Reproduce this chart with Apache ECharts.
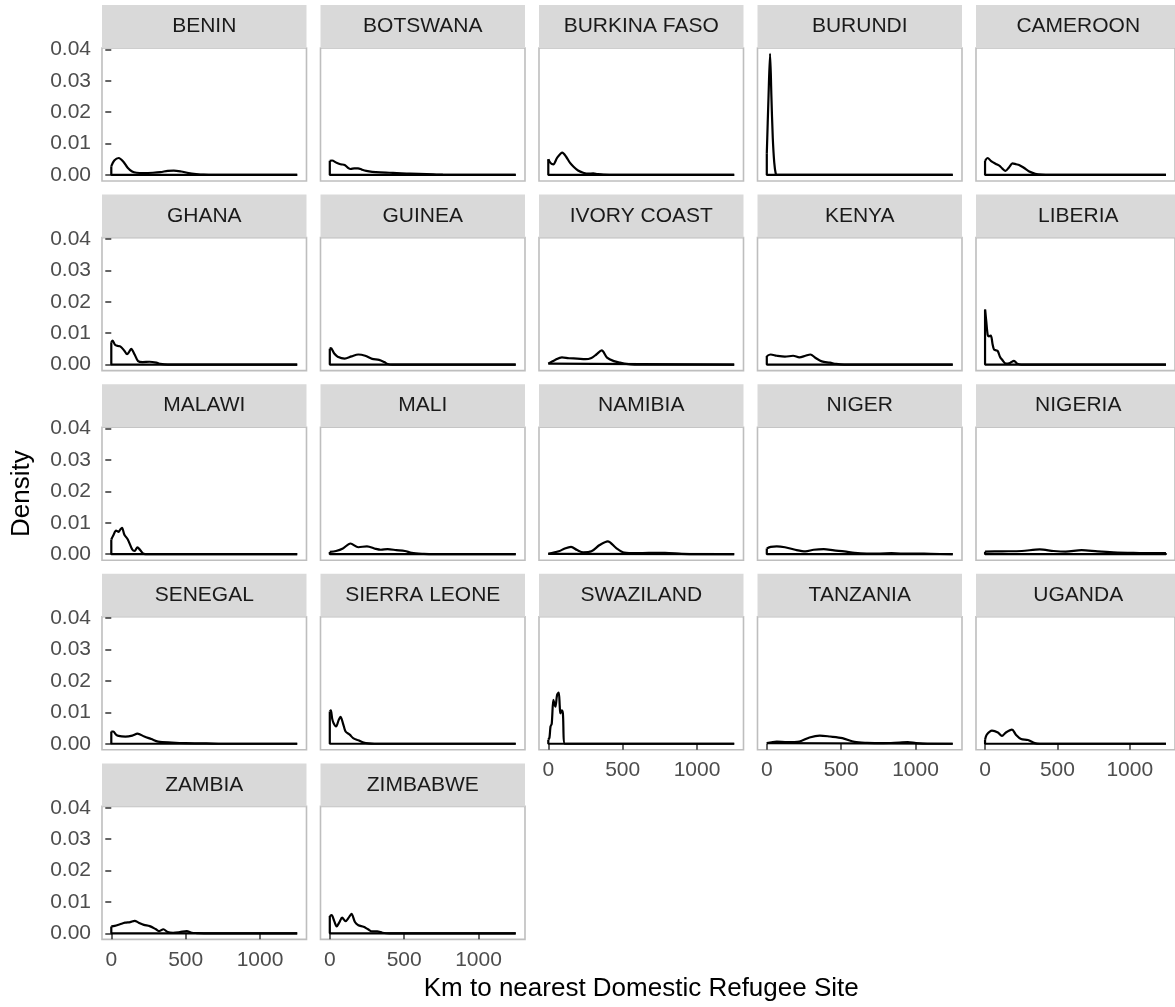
<!DOCTYPE html>
<html>
<head>
<meta charset="utf-8">
<script src="https://cdn.jsdelivr.net/npm/echarts@6/dist/echarts.min.js"></script>
<style>
  html, body { margin: 0; padding: 0; background: #ffffff; }
  #chart { width: 1175px; height: 1007px; }
</style>
</head>
<body>
<div id="chart"></div>
<script>
// Facet labels, in panel order (row by row)
const countries = [
  'BENIN', 'BOTSWANA', 'BURKINA FASO', 'BURUNDI', 'CAMEROON',
  'GHANA', 'GUINEA', 'IVORY COAST', 'KENYA', 'LIBERIA',
  'MALAWI', 'MALI', 'NAMIBIA', 'NIGER', 'NIGERIA',
  'SENEGAL', 'SIERRA LEONE', 'SWAZILAND', 'TANZANIA', 'UGANDA',
  'ZAMBIA', 'ZIMBABWE'
];

// Kernel density estimates: [km to nearest site, density]
const densBenin = [[0,0.0028],[20,0.0046],[50,0.0054],[80,0.0043],[110,0.0023],[140,0.0011],[170,0.0007],[220,0.0006],[280,0.0007],[330,0.0009],[380,0.0013],[420,0.0014],[470,0.0011],[520,0.0006],[570,0.0003],[620,0.0001],[700,0.00003],[1250,0]];
const densBotswana = [[0,0.0045],[15,0.0046],[45,0.0039],[72,0.0034],[100,0.0032],[125,0.0022],[140,0.0019],[165,0.0021],[190,0.0021],[215,0.0017],[245,0.0013],[285,0.0010],[340,0.0008],[400,0.0007],[450,0.0006],[540,0.0004],[650,0.0003],[760,0.0001],[1250,0]];
const densBurkinaFaso = [[0,0.0050],[15,0.0038],[34,0.0034],[60,0.0055],[94,0.0071],[120,0.0058],[145,0.0039],[170,0.0026],[200,0.0014],[235,0.0007],[270,0.0004],[302,0.0005],[330,0.0003],[370,0.0001],[450,0],[1250,0]];
const densBurundi = [[0,0.0068],[11,0.0240],[22,0.0386],[31,0.0250],[40,0.0120],[50,0.0040],[60,0.0005],[70,0],[1250,0]];
const densCameroon = [[0,0.0045],[18,0.0054],[40,0.0045],[56,0.0040],[80,0.0034],[101,0.0029],[120,0.0020],[141,0.0013],[165,0.0024],[190,0.0037],[215,0.0034],[235,0.0032],[268,0.0023],[302,0.0012],[347,0.0004],[391,0.0001],[450,0],[1250,0]];
const densGhana = [[0,0.0071],[9,0.0076],[25,0.0063],[45,0.0059],[60,0.0058],[88,0.0044],[106,0.0033],[122,0.0042],[134,0.0050],[145,0.0043],[157,0.0032],[180,0.0011],[211,0.0008],[257,0.0009],[303,0.0006],[330,0.0002],[380,0],[1250,0]];
const densGuinea = [[0,0.0050],[7,0.0052],[30,0.0035],[53,0.0025],[100,0.0019],[146,0.0026],[192,0.0032],[238,0.0028],[285,0.0018],[331,0.0015],[366,0.0008],[389,0.0002],[420,0],[1250,0]];
const densIvoryCoast = [[0,0.0003],[43,0.0014],[92,0.0023],[139,0.0020],[194,0.0019],[249,0.0017],[290,0.0021],[323,0.0032],[359,0.0045],[395,0.0022],[441,0.0011],[483,0.0006],[524,0.0002],[580,0],[1250,0]];
const densKenya = [[0,0.0027],[26,0.0032],[67,0.0028],[122,0.0025],[177,0.0028],[219,0.0023],[260,0.0028],[293,0.0032],[328,0.0021],[370,0.0010],[425,0.0006],[466,0.0002],[520,0],[1250,0]];
const densLiberia = [[0,0.0175],[8,0.0140],[18,0.0095],[26,0.0090],[40,0.0092],[52,0.0065],[62,0.0048],[78,0.0045],[89,0.0042],[103,0.0025],[117,0.0016],[144,0.0003],[172,0.0005],[200,0.0012],[222,0.0003],[250,0],[1250,0]];
const densMalawi = [[0,0.0047],[14,0.0060],[32,0.0075],[49,0.0071],[60,0.0078],[72,0.0084],[88,0.0062],[111,0.0047],[141,0.0015],[157,0.0010],[176,0.0022],[194,0.0013],[218,0.0001],[250,0],[1250,0]];
const densMali = [[0,0.0007],[42,0.0010],[88,0.0018],[139,0.0034],[192,0.0022],[250,0.0025],[308,0.0017],[343,0.0014],[389,0.0016],[447,0.0013],[505,0.0010],[551,0.0004],[632,0.0001],[700,0],[1250,0]];
const densNamibia = [[0,0.0001],[70,0.0009],[111,0.0018],[153,0.0023],[194,0.0013],[235,0.0006],[290,0.0009],[345,0.0029],[400,0.0041],[455,0.0020],[510,0.0005],[593,0.0003],[675,0.0004],[785,0.0004],[896,0.0001],[1000,0],[1250,0]];
const densNiger = [[0,0.0018],[26,0.0023],[67,0.0025],[122,0.0022],[191,0.0014],[260,0.0009],[315,0.0014],[383,0.0016],[452,0.0012],[521,0.0009],[590,0.0004],[673,0.0002],[760,0.0002],[838,0.0003],[900,0.0002],[976,0.0002],[1100,0.0001],[1250,0]];
const densNigeria = [[0,0.0008],[117,0.0009],[254,0.0010],[378,0.0015],[474,0.0010],[557,0.0008],[667,0.0013],[777,0.0009],[887,0.0006],[1025,0.0004],[1163,0.0003],[1250,0.0003]];
const densSenegal = [[0,0.0039],[14,0.0039],[30,0.0030],[49,0.0025],[95,0.0023],[141,0.0026],[176,0.0032],[222,0.0023],[269,0.0015],[315,0.0007],[407,0.0004],[500,0.0002],[639,0.0001],[750,0],[1250,0]];
const densSierraLeone = [[0,0.0103],[7,0.0106],[16,0.0080],[25,0.0066],[42,0.0055],[60,0.0076],[72,0.0086],[88,0.0066],[106,0.0039],[134,0.0029],[157,0.0018],[192,0.0011],[227,0.0004],[262,0.0001],[300,0],[1250,0]];
const densSwaziland = [[0,0.0013],[8,0.0020],[15,0.0055],[23,0.0063],[34,0.0140],[42,0.0125],[48,0.0118],[59,0.0155],[70,0.0163],[77,0.0120],[81,0.0097],[90,0.0106],[98,0.0097],[112,0],[1250,0]];
const densTanzania = [[0,0.0002],[67,0.0007],[136,0.0005],[219,0.0007],[287,0.0020],[356,0.0026],[425,0.0023],[508,0.0018],[590,0.0006],[673,0.0003],[783,0.0002],[893,0.0004],[948,0.0005],[1003,0.0002],[1080,0],[1250,0]];
const densUganda = [[0,0.0013],[12,0.0029],[48,0.0042],[89,0.0036],[117,0.0025],[144,0.0036],[186,0.0045],[213,0.0029],[249,0.0015],[296,0.0012],[343,0.0002],[380,0],[1250,0]];
const densZambia = [[0,0.0022],[23,0.0024],[58,0.0029],[92,0.0034],[127,0.0036],[157,0.0040],[184,0.0034],[219,0.0027],[258,0.0023],[300,0.0013],[323,0.0007],[350,0.0013],[380,0.0004],[415,0.0002],[461,0.0004],[507,0.0007],[541,0.0002],[576,0.0001],[650,0],[1250,0]];
const densZimbabwe = [[0,0.0055],[12,0.0058],[30,0.0039],[46,0.0022],[65,0.0036],[83,0.0050],[106,0.0039],[127,0.0050],[146,0.0062],[169,0.0036],[192,0.0026],[227,0.0021],[257,0.0013],[285,0.0006],[319,0.0006],[354,0.0002],[400,0],[1250,0]];

// Tick labels shared by every panel
const xTicks = [0, 500, 1000];
const yTicks = [0, 0.01, 0.02, 0.03, 0.04];

const curves = [
  densBenin, densBotswana, densBurkinaFaso, densBurundi, densCameroon,
  densGhana, densGuinea, densIvoryCoast, densKenya, densLiberia,
  densMalawi, densMali, densNamibia, densNiger, densNigeria,
  densSenegal, densSierraLeone, densSwaziland, densTanzania, densUganda,
  densZambia, densZimbabwe
];

// Facet layout (pixels)
const FONT = '"Liberation Sans", Arial, Helvetica, sans-serif';
const NCOL = 5;
const PANEL_L = 102, PANEL_T = 48, PANEL_W = 204.5, PANEL_H = 133;
const COL_STEP = 218.5, ROW_STEP = 189.6, STRIP_H = 43;
// Shared scales, expanded 5% beyond the data range
const X_MIN = -62.5, X_MAX = 1312.5;
const Y_MIN = -0.001925, Y_MAX = 0.040425;

const grids = [], xAxes = [], yAxes = [], series = [], graphics = [];
const n = countries.length;

countries.forEach((name, i) => {
  const r = Math.floor(i / NCOL), c = i % NCOL;
  const left = PANEL_L + c * COL_STEP;
  const top = PANEL_T + r * ROW_STEP;
  const isBottom = i + NCOL >= n;
  const isLeft = c === 0;

  grids.push({
    left: left, top: top, width: PANEL_W, height: PANEL_H,
    show: true, backgroundColor: '#ffffff',
    borderColor: '#BEBEBE', borderWidth: 1.6
  });

  xAxes.push({
    type: 'value', gridIndex: i, min: X_MIN, max: X_MAX,
    axisLine: { show: false },
    splitLine: { show: false },
    axisTick: {
      show: isBottom, customValues: xTicks, length: 6, inside: false,
      lineStyle: { color: '#333333', width: 1.5 }
    },
    axisLabel: {
      show: isBottom, customValues: xTicks, margin: 10,
      color: '#4D4D4D', fontSize: 21, fontFamily: FONT,
      formatter: v => String(v)
    }
  });

  yAxes.push({
    type: 'value', gridIndex: i, min: Y_MIN, max: Y_MAX,
    axisLine: { show: false },
    splitLine: { show: false },
    axisTick: {
      show: isLeft, customValues: yTicks, length: 6, inside: false,
      lineStyle: { color: '#333333', width: 1.5 }
    },
    axisLabel: {
      show: isLeft, customValues: yTicks, margin: 11,
      color: '#4D4D4D', fontSize: 21, fontFamily: FONT,
      formatter: v => v.toFixed(2)
    }
  });

  const pts = curves[i];
  const first = pts[0], last = pts[pts.length - 1];

  // density outline
  series.push({
    type: 'line', xAxisIndex: i, yAxisIndex: i,
    data: pts, smooth: 0.3, showSymbol: false, silent: true,
    lineStyle: { color: '#000000', width: 2.2 },
    z: 3
  });
  // closing edges of the density polygon (left edge, baseline, right edge)
  series.push({
    type: 'line', xAxisIndex: i, yAxisIndex: i,
    data: [[first[0], first[1]], [first[0], 0], [last[0], 0], [last[0], last[1]]],
    showSymbol: false, silent: true,
    lineStyle: { color: '#000000', width: 2.2 },
    z: 3
  });

  // facet strip
  const stripTop = top - STRIP_H;
  graphics.push({
    type: 'rect', silent: true,
    shape: { x: left, y: stripTop, width: PANEL_W, height: STRIP_H },
    style: { fill: '#D9D9D9' }, z: 1
  });
  graphics.push({
    type: 'text', silent: true,
    style: {
      text: name, x: left + PANEL_W / 2, y: stripTop + STRIP_H / 2,
      textAlign: 'center', textVerticalAlign: 'middle',
      fill: '#1A1A1A', font: '21px ' + FONT
    }, z: 2
  });
});

// Axis titles
const lastRowBottom = PANEL_T + 4 * ROW_STEP + PANEL_H;
graphics.push({
  type: 'text', silent: true,
  x: 21.5, y: (PANEL_T + lastRowBottom) / 2, rotation: Math.PI / 2,
  style: {
    text: 'Density', x: 0, y: 0,
    textAlign: 'center', textVerticalAlign: 'middle',
    fill: '#000000', font: '26px ' + FONT
  }
});
graphics.push({
  type: 'text', silent: true,
  style: {
    text: 'Km to nearest Domestic Refugee Site',
    x: PANEL_L + (4 * COL_STEP + PANEL_W) / 2, y: 989,
    textAlign: 'center', textVerticalAlign: 'middle',
    fill: '#000000', font: '26px ' + FONT
  }
});

const chart = echarts.init(document.getElementById('chart'), null, { renderer: 'canvas' });
chart.setOption({
  animation: false,
  backgroundColor: '#ffffff',
  grid: grids,
  xAxis: xAxes,
  yAxis: yAxes,
  series: series,
  graphic: graphics
});
</script>
</body>
</html>
